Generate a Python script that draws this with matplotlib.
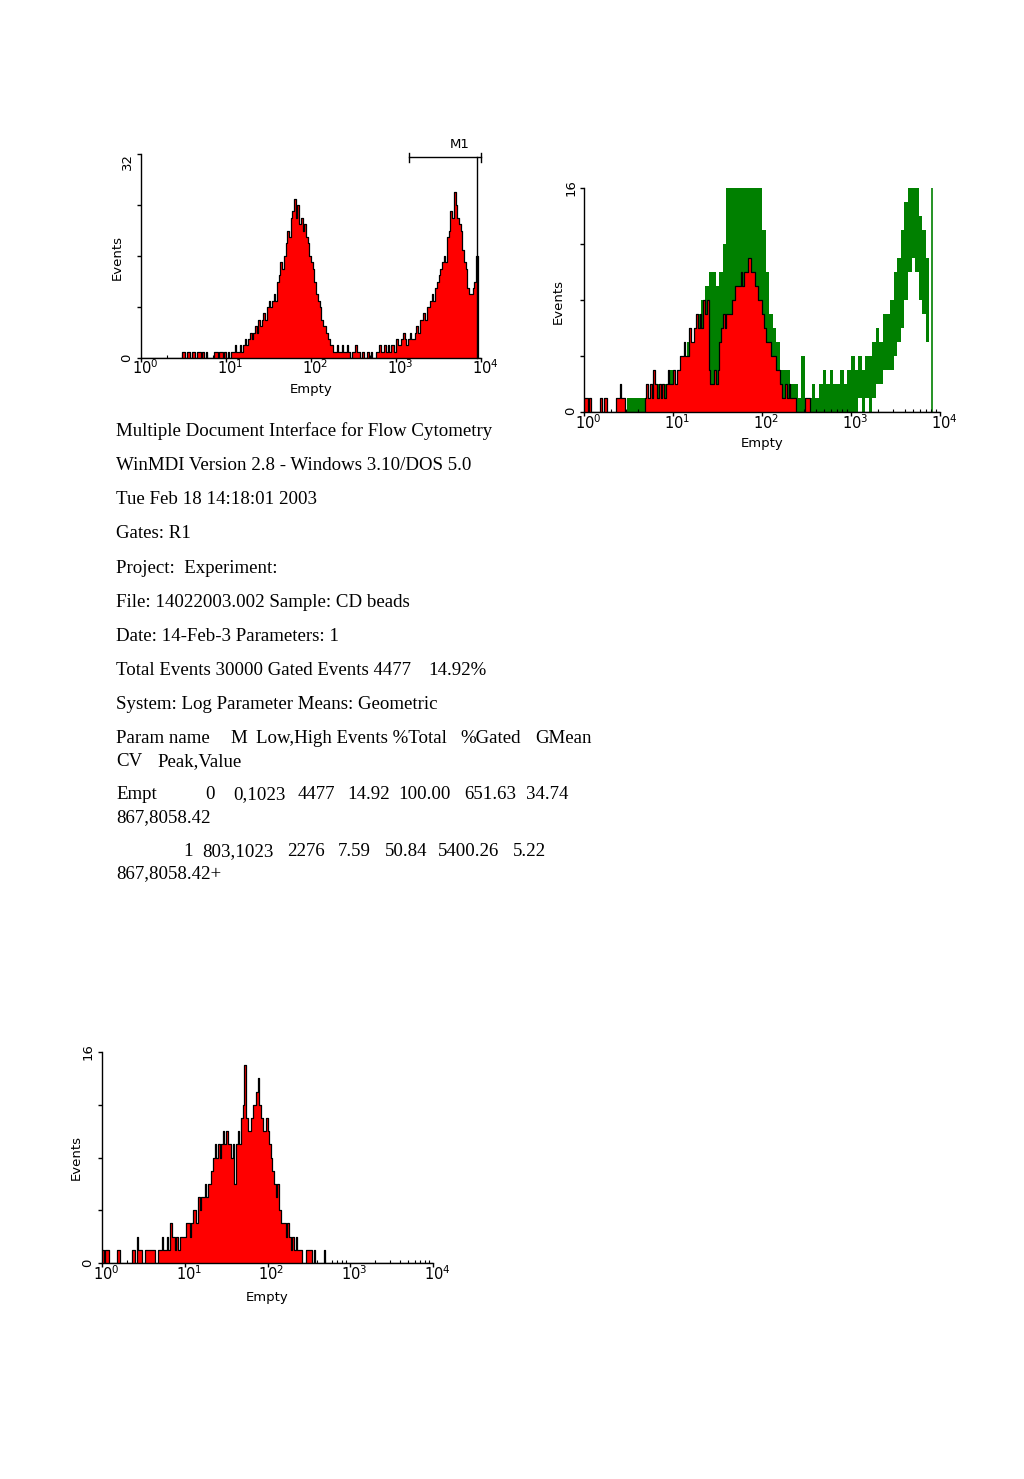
import numpy as np
import matplotlib
matplotlib.use("Agg")
import matplotlib.pyplot as plt
from matplotlib.ticker import FixedLocator, LogLocator, NullFormatter

W, H = 1024, 1479

# ---------------- data ----------------
# counts per 0.02-decade channel from 10^0 to 10^4 (200 channels)
fine_bin_decades = 0.02
# green overlay envelope per 0.04-decade channel (100 channels)
coarse_bin_decades = 0.04

hist1_counts = [
    0, 0, 0, 0, 0, 0, 0, 0, 0, 0, 0, 0, 0, 0, 0, 0, 0, 0, 0, 0, 0, 0, 0, 0,
    1, 1, 0, 1, 1, 0, 1, 1,
    0, 1, 1, 0,
    1, 0, 1, 0,
    0, 0, 0,
    1, 1, 0, 1, 1, 0, 1,
    0, 1, 0, 1,
    1, 2, 1, 1,
    2, 1, 2, 3,
    2, 3, 4, 3,
    4, 5, 4, 6,
    5, 6, 7, 6,
    8, 9, 8, 9,
    10, 9, 12, 13,
    15, 14, 16, 18,
    20, 19, 22, 23,
    25, 22, 24, 21,
    22, 20, 21, 19,
    18, 16, 15, 14,
    12, 10, 9, 8,
    6, 5, 5, 4,
    3, 2, 2, 1,
    1, 2, 1, 1,
    2, 1, 1, 2,
    1, 0, 1, 1,
    2, 1, 1, 0,
    1, 0, 0, 1,
    0, 1, 0, 0,
    1, 1, 2, 1,
    1, 2, 1, 2,
    1, 2, 2, 1,
    3, 2, 2, 3,
    4, 3, 2, 3,
    4, 3, 3, 4,
    5, 4, 6, 6,
    7, 6, 8, 8,
    9, 10, 9, 11,
    12, 13, 14, 15,
    16, 15, 19, 20,
    23, 22, 26, 24,
    22, 21, 20, 17,
    15, 14, 11, 10,
    10, 11, 12, 16,
    0, 0,
]

hist2_red = [
    1, 1, 0, 1, 0,
    0, 0, 0, 0,
    1, 0, 1, 1, 0,
    0, 0, 0, 0,
    1, 1, 2, 1, 1, 0,
    0, 0, 0, 0, 0, 0, 0, 0, 0, 0,
    1, 2, 1, 2,
    1, 3, 2, 1,
    2, 1, 2, 1,
    2, 3, 2, 2,
    3, 2, 3, 3,
    4, 4, 5, 4,
    4, 6, 5, 5,
    6, 7, 6, 7,
    6, 8, 7, 8,
    3, 2, 2, 3,
    2, 3, 5, 6,
    7, 6, 7, 7,
    7, 8, 8, 9,
    9, 9, 10, 9,
    10, 10, 11, 11,
    10, 10, 9, 9,
    8, 8, 7, 6,
    5, 5, 5, 4,
    4, 4, 3, 3,
    2, 1, 1, 2,
    1, 2, 1, 1,
    1, 0, 0, 0,
    0, 0, 1, 1, 1, 0, 0, 0,
] + [0] * 70

hist2_green_low = [0, 0, 0, 0, 0, 0, 0, 0, 0, 0, 0, 0, 0, 0, 0, 0, 0, 0, 0, 0,
                   0, 0, 0, 0, 0, 0, 0, 0, 0, 0, 0, 0, 0, 0, 0, 0, 0, 0, 0, 0,
                   0, 0, 0, 0, 0, 0, 0, 0, 0, 0, 0, 0, 0, 0, 0, 0, 0, 0, 0, 0,
                   0, 0, 0, 0, 0, 0, 0, 0, 0, 0, 0, 0, 0, 0, 0, 0, 0, 1, 0, 1,
                   0, 1, 2, 2, 3, 3, 3, 4, 5, 6, 8, 10, 11, 10, 8, 7, 5, 4, 0, 0]

hist2_green_high = [0, 0, 0, 0, 0, 0, 0, 0, 0, 0, 0, 0, 1, 1, 1, 1, 1, 1, 1, 2,
                    2, 2, 2, 2, 3, 2, 3, 4, 4, 5, 5, 6, 7, 8, 9, 10, 10, 9, 10, 12,
                    16, 16, 16, 16, 16, 16, 16, 16, 16, 16, 13, 10, 7, 6, 5, 3, 3, 3, 2, 2,
                    1, 4, 1, 1, 2, 1, 2, 3, 2, 3, 2, 2, 3, 2, 3, 4, 3, 4, 3, 4,
                    4, 5, 6, 5, 7, 7, 8, 10, 11, 13, 15, 16, 16, 16, 14, 13, 11, 12, 0, 0]

hist2_green_spike_pos = [3.91]   # log10 position of lone green spike
hist2_green_spike_val = [16]

hist3_counts = [
    1, 0, 1, 1, 0, 0,
    0, 0, 0,
    1, 1, 0,
    0, 0, 0, 0, 0, 0,
    1, 1, 0, 2, 1, 1, 0,
    0, 1, 1,
    1, 1, 1, 1, 0, 0,
    1, 1, 2, 1, 1, 2,
    1, 3, 2, 2, 1,
    2, 1, 2, 2, 2,
    2, 3, 3, 2, 3,
    4, 4, 3, 5, 4,
    5, 5, 6, 5, 6,
    6, 7, 8, 9, 8,
    9, 8, 9, 10, 9,
    10, 9, 9, 8, 9,
    6, 9, 10, 9, 11,
    12, 15, 11, 10, 10,
    11, 12, 12, 13, 14,
    12, 11, 10, 10, 11,
    10, 9, 8, 7, 6,
    5, 6, 4, 3, 3,
    3, 2, 3, 2, 1,
    2, 1, 2, 1, 1,
    1, 0, 0, 1, 1,
    1, 1, 0, 1, 0,
    0, 0, 0, 0, 1,
    0,
] + [0] * 64

marker_M1 = (3.15, 4.0)      # log10 range of M1 marker
marker_line_pos = 3.95       # log10 position of the vertical gate line

decade_labels = [r"$10^{0}$", r"$10^{1}$", r"$10^{2}$", r"$10^{3}$", r"$10^{4}$"]

text_lines = [
    (436, [(116, "Multiple Document Interface for Flow Cytometry")]),
    (470, [(116, "WinMDI Version 2.8 - Windows 3.10/DOS 5.0")]),
    (504, [(116, "Tue Feb 18 14:18:01 2003")]),
    (538, [(116, "Gates: R1")]),
    (573, [(116, "Project:  Experiment:")]),
    (607, [(116, "File: 14022003.002 Sample: CD beads")]),
    (641, [(116, "Date: 14-Feb-3 Parameters: 1")]),
    (675, [(116, "Total Events 30000 Gated Events 4477"), (428, "14.92%")]),
    (709, [(116, "System: Log Parameter Means: Geometric")]),
    (743, [(116, "Param name"), (230, "M"), (256, "Low,High Events %Total"),
           (460, "%Gated"), (535, "GMean")]),
    (766, [(116, "CV"), (157, "Peak,Value")]),
    (799, [(116, "Empt"), (205, "0"), (233, "0,1023"), (298, "4477"), (347, "14.92"),
           (398, "100.00"), (464, "651.63"), (526, "34.74")]),
    (822, [(116, "867,8058.42")]),
    (856, [(183, "1"), (202, "803,1023"), (287, "2276"), (338, "7.59"), (385, "50.84"),
           (438, "5400.26"), (513, "5.22")]),
    (878, [(116, "867,8058.42+")]),
]

# ---------------- helpers ----------------
fig = plt.figure(figsize=(W / 100, H / 100), dpi=100)
fig.patch.set_facecolor("white")


def fx(px):
    return px / W


def fy(py):
    return 1 - py / H


def make_axes(left, top, right, bottom, ymax, yticks):
    ax = fig.add_axes([fx(left), fy(bottom), fx(right) - fx(left), (bottom - top) / H])
    ax.set_xscale("log")
    ax.set_xlim(1, 1e4)
    ax.set_ylim(0, ymax)
    for s in ("top", "right"):
        ax.spines[s].set_visible(False)
    for s in ("left", "bottom"):
        ax.spines[s].set_linewidth(1.0)
        ax.spines[s].set_color("black")
    ax.xaxis.set_major_locator(FixedLocator([1, 10, 100, 1000, 10000]))
    ax.xaxis.set_minor_locator(LogLocator(base=10, subs=np.arange(2, 10), numticks=20))
    ax.xaxis.set_minor_formatter(NullFormatter())
    ax.set_xticklabels([])
    ax.set_yticks(yticks)
    ax.set_yticklabels([])
    ax.tick_params(axis="x", which="major", direction="out", length=3, width=1, pad=1)
    ax.tick_params(axis="x", which="minor", direction="in", length=2, width=0.8)
    ax.tick_params(axis="y", which="major", direction="out", length=3, width=1)
    ax.patch.set_alpha(0)
    return ax


def xlabels(left, right, ycenter):
    dec = (right - left) / 4.0
    for i, lab in enumerate(decade_labels):
        fig.text(fx(left + i * dec + 4), fy(ycenter), lab, fontsize=10.5,
                 ha="center", va="center", family="DejaVu Sans")


def label(px, py, s, rot=0, size=9.5):
    fig.text(fx(px), fy(py), s, fontsize=size, ha="center", va="center",
             rotation=rot, family="DejaVu Sans")


def edges_for(values, width):
    return 10 ** (np.arange(len(values) + 1) * width)


def stepvals(v):
    v = np.asarray(v, dtype=float)
    return np.append(v, v[-1])


def red_hist(ax, counts, width, z=2):
    xe = edges_for(counts, width)
    v = stepvals(counts)
    ax.fill_between(xe, 0, v, step="post", color="#ff0000", lw=0, zorder=z)
    ax.step(xe, v, where="post", color="black", lw=0.9, zorder=z + 1)


# ---------------- chart 1 ----------------
ax1 = make_axes(141, 154, 481, 358, 32, [0, 8, 16, 24, 32])
red_hist(ax1, hist1_counts, fine_bin_decades)
ax1.plot([10 ** marker_M1[0], 10 ** marker_M1[1]], [31.5, 31.5], color="black", lw=1, clip_on=False)
for m in marker_M1:
    ax1.plot([10 ** m, 10 ** m], [30.8, 32.2], color="black", lw=1, clip_on=False)
ax1.plot([10 ** marker_line_pos] * 2, [0, 31.5], color="black", lw=1, clip_on=False, zorder=4)
label(460, 145, "M1")
label(117, 257, "Events", rot=90)
label(311, 390, "Empty")
label(127, 358, "0", rot=90)
label(127, 162, "32", rot=90)
xlabels(141, 481, 368)

# ---------------- chart 2 ----------------
ax2 = make_axes(584, 188, 940, 412, 16, [0, 4, 8, 12, 16])
xg = edges_for(hist2_green_high, coarse_bin_decades)
glo = stepvals(hist2_green_low)
ghi = stepvals(hist2_green_high)
ax2.fill_between(xg, glo, ghi, where=ghi > 0, step="post", color="#008000", lw=0, zorder=1)
ax2.vlines([10 ** p for p in hist2_green_spike_pos], 0, hist2_green_spike_val,
           color="#008000", lw=1.2, zorder=1)
red_hist(ax2, hist2_red, fine_bin_decades, z=2)
label(558, 302, "Events", rot=90)
label(762, 443, "Empty")
label(571, 411, "0", rot=90)
label(571, 188, "16", rot=90)
xlabels(584, 940, 423)

# ---------------- chart 3 ----------------
ax3 = make_axes(102, 1052, 433, 1263, 16, [0, 4, 8, 12, 16])
red_hist(ax3, hist3_counts, fine_bin_decades)
label(76, 1158, "Events", rot=90)
label(267, 1297, "Empty")
label(88, 1263, "0", rot=90)
label(88, 1052, "16", rot=90)
xlabels(102, 433, 1274)

# ---------------- text block ----------------
for ybase, parts in text_lines:
    for xpos, s in parts:
        fig.text(fx(xpos), fy(ybase), s, fontsize=13.6, family="Liberation Serif",
                 ha="left", va="baseline", color="black")

fig.savefig("out.png", dpi=100, facecolor="white")
